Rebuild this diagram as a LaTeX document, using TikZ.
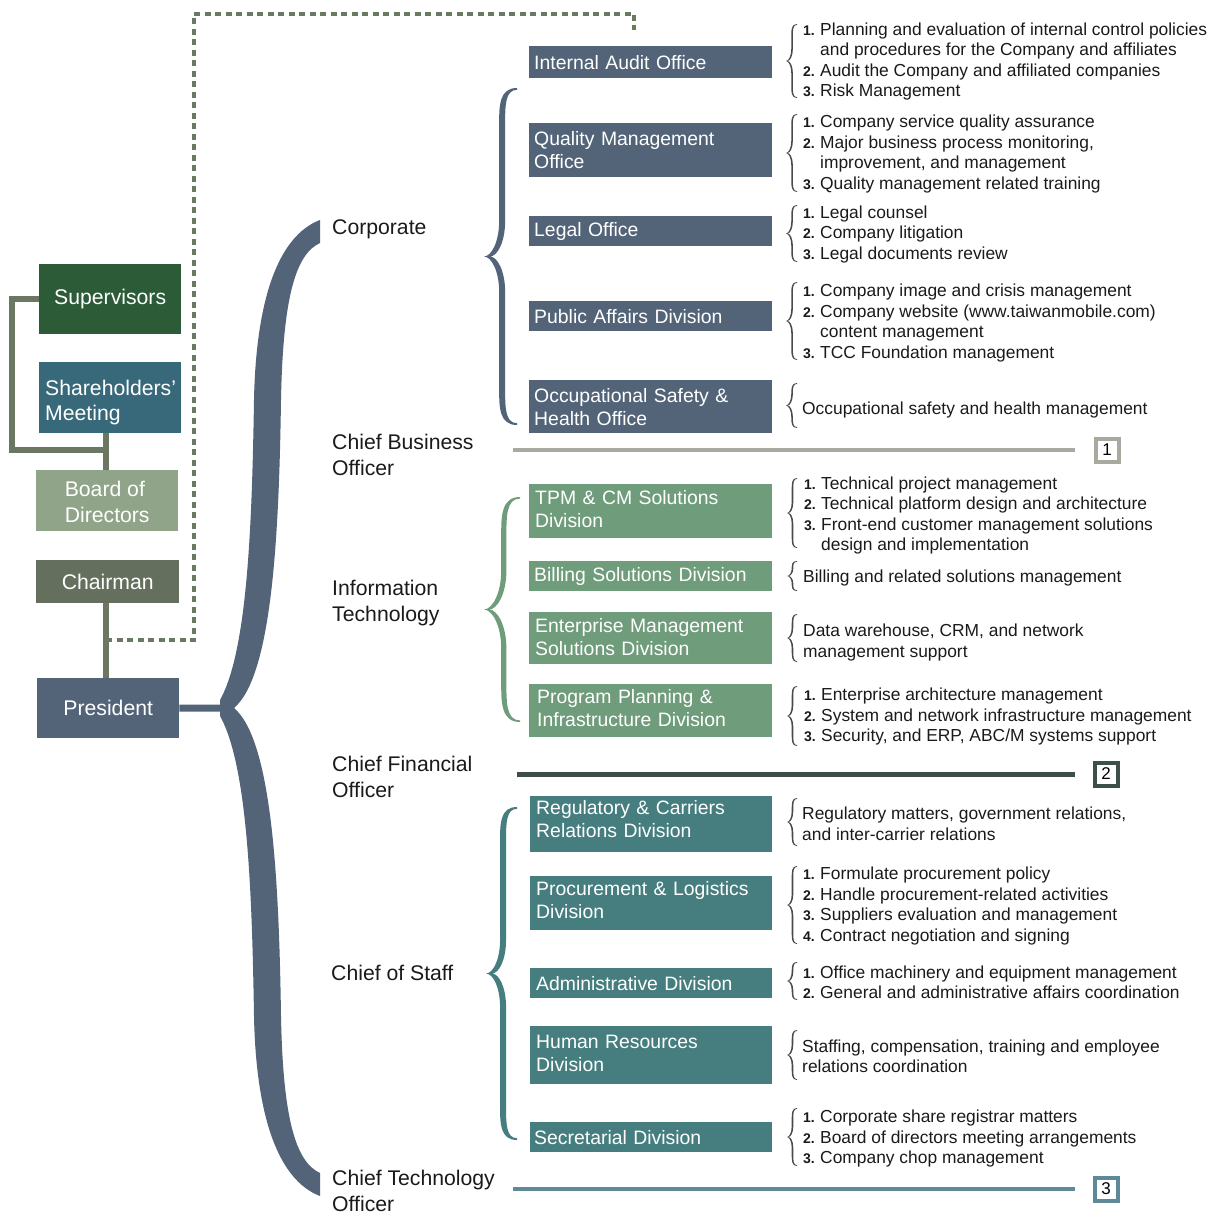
\documentclass[tikz,border=0pt]{standalone}
\usepackage{fontspec}
\setmainfont{Liberation Sans}
\definecolor{slate}{HTML}{536479}
\definecolor{itgreen}{HTML}{6F9C7B}
\definecolor{costeal}{HTML}{467E80}
\definecolor{supgreen}{HTML}{2C5B37}
\definecolor{shteal}{HTML}{38697A}
\definecolor{bodsage}{HTML}{8FA488}
\definecolor{chgrey}{HTML}{646F5D}
\definecolor{connc}{HTML}{6B7663}
\definecolor{dotc}{HTML}{687B61}
\definecolor{sepa}{HTML}{A8A99F}
\definecolor{sepb}{HTML}{3D5048}
\definecolor{sepc}{HTML}{5F8898}
\definecolor{txt}{HTML}{1A1A1A}
\definecolor{brc}{HTML}{4A4A4A}
\newcommand\itm[1]{\makebox[17pt][l]{\fontsize{14}{14}\selectfont\bfseries #1.}}
\newcommand\ind{\hspace*{17pt}}
\newcommand\dn[1]{\rule[-#1pt]{0pt}{#1pt}}
\newcommand\up[1]{\rule{0pt}{#1pt}}
\newcommand\sbr[6]{%
 \pgfmathsetmacro\bxe{#1}\pgfmathsetmacro\byt{#2}\pgfmathsetmacro\byb{#3}%
 \pgfmathsetmacro\bxt{#4}\pgfmathsetmacro\bw{#6}%
 \pgfmathsetmacro\bym{(\byt+\byb)/2}%
 \pgfmathsetmacro\bxa{\bxt+0.55*(\bxe-\bxt)}%
 \pgfmathsetmacro\bd{\bxa-\bxt}%
 \pgfmathsetmacro\bc{min(1.2*(\bxe-\bxa),(\byb-\byt)/8)}%
 \pgfmathsetmacro\bto{max(0.6*\bw,0.8)}%
 \fill[#5] (\bxe,\byt) .. controls (\bxa-\bw,\byt) and (\bxa-\bw,\byt+\bc) .. (\bxa-\bw,\byt+2*\bc)
  -- (\bxa-\bw,\bym-2*\bc) .. controls (\bxa-\bw,\bym-0.8*\bc) and (\bxt+0.4*\bd,\bym) .. (\bxt,\bym)
  .. controls (\bxt+0.4*\bd,\bym) and (\bxa-\bw,\bym+0.8*\bc) .. (\bxa-\bw,\bym+2*\bc)
  -- (\bxa-\bw,\byb-2*\bc) .. controls (\bxa-\bw,\byb-\bc) and (\bxa-\bw,\byb) .. (\bxe,\byb)
  -- (\bxe,\byb-\bto) .. controls (\bxa+\bw,\byb-\bto) and (\bxa+\bw,\byb-\bc) .. (\bxa+\bw,\byb-2*\bc)
  -- (\bxa+\bw,\bym+2*\bc) .. controls (\bxa+\bw,\bym+0.8*\bc) and (\bxt+2*\bw+0.4*\bd,\bym) .. (\bxt+2*\bw,\bym)
  .. controls (\bxt+2*\bw+0.4*\bd,\bym) and (\bxa+\bw,\bym-0.8*\bc) .. (\bxa+\bw,\bym-2*\bc)
  -- (\bxa+\bw,\byt+2*\bc) .. controls (\bxa+\bw,\byt+\bc) and (\bxa+\bw,\byt+\bto) .. (\bxe,\byt+\bto) -- cycle;
}
\tikzset{
 dept/.style={fill=#1, text=white, anchor=north west, inner xsep=5pt, inner ysep=0pt,
   text width=233pt, align=left, font=\fontsize{19.4}{23}\selectfont},
 lbox/.style={fill=#1, text=white, anchor=north west, inner xsep=5pt, inner ysep=0pt,
   align=left, font=\fontsize{21.2}{25}\selectfont},
 lab/.style={anchor=west, inner sep=0pt, align=left, text=txt, font=\fontsize{21.2}{26}\selectfont},
 desc/.style={anchor=west, inner sep=0pt, align=left, text=txt, yshift=-2pt, font=\fontsize{17.4}{20.5}\selectfont},
 conn/.style={draw=connc, line width=5.5pt},
 dotline/.style={draw=dotc, line width=4pt, dash pattern=on 6pt off 4.5pt},
 sepline/.style={draw=#1, line width=4pt},
 numbox/.style={draw=#1, line width=4pt, fill=white, minimum size=23pt, inner sep=0pt,
   text=black, font=\fontsize{17}{17}\selectfont}
}
\begin{document}
\begin{tikzpicture}[x=1pt,y=-1pt]
\useasboundingbox (0,0) rectangle (1220,1214);
% ---------- left column ----------
\node[lbox=supgreen, minimum width=142pt, minimum height=70pt] (sup) at (39,264) {Supervisors};
\node[lbox=shteal, minimum height=71pt, text width=130pt, inner xsep=6pt] (sh) at (39,362) {\up{25}Shareholders’\\Meeting};
\node[lbox=bodsage, minimum width=142pt, minimum height=61pt, font=\fontsize{21.2}{26}\selectfont] (bod) at (36,470) {\up{18}Board of\\Directors};
\node[lbox=chgrey, minimum width=143pt, minimum height=43pt] (ch) at (36,560) {Chairman};
\node[lbox=slate, minimum width=142pt, minimum height=60pt] (pres) at (37,678) {President};
\coordinate (j) at (106,450);
\coordinate (jl) at (12,450);
\draw[conn] (sup.west) -- (sup.west -| jl) -- (jl) -- (j);
\draw[conn] (sh.south -| j) -- (bod.north -| j);
\draw[conn] (ch.south -| j) -- (pres.north -| j);
\coordinate (d0) at (106,640);
\coordinate (d1) at (634,30);
\draw[dotline] (d0) -- (194,640) -- (194,14) -- (634,14) -- (d1);
% ---------- big brace ----------
\fill[slate] (320,220) .. controls (278,236) and (256,300) .. (254,400)
  .. controls (252,520) and (248,650) .. (220,700)
  -- (220,716)
  .. controls (248,766) and (252,896) .. (254,1016)
  .. controls (256,1116) and (278,1180) .. (320,1196)
  -- (320,1173)
  .. controls (296,1162) and (283,1120) .. (281,1016)
  .. controls (279,880) and (272,740) .. (234,708)
  .. controls (272,676) and (279,536) .. (281,400)
  .. controls (283,296) and (296,254) .. (320,243)
  -- cycle;
\coordinate (btip) at (224,708);
\draw[draw=slate, line width=7pt] (pres.east) -- (btip);
% ---------- labels ----------
\node[lab] (lcorp) at (332,229) {Corporate};
\node[lab] (lcbo) at (332,455) {Chief Business\\Officer};
\node[lab] (lit) at (332,603) {Information\\Technology};
\node[lab] (lcfo) at (332,777) {Chief Financial\\Officer};
\node[lab] (lcos) at (331,973) {Chief of Staff};
\node[lab] (lcto) at (332,1191) {Chief Technology\\Officer};
% ---------- section braces ----------
\sbr{517}{88}{425}{484}{slate}{3}
\sbr{520}{497}{722}{484}{itgreen}{2.6}
\sbr{517}{807}{1140}{486}{costeal}{3}
% ---------- corporate boxes ----------
\node[dept=slate, minimum height=32pt] (ia) at (529,46) {Internal Audit Office};
\node[dept=slate, minimum height=54pt] (qm) at (529,123) {Quality Management\\Office};
\node[dept=slate, minimum height=30pt] (lo) at (529,216) {Legal Office};
\node[dept=slate, minimum height=30pt] (pa) at (529,301) {Public Affairs Division};
\node[dept=slate, minimum height=53pt] (os) at (529,380) {Occupational Safety \&\\Health Office};
% ---------- IT boxes ----------
\node[dept=itgreen, inner xsep=6pt, text width=231pt, minimum height=54pt] (tpm) at (529,484) {TPM \& CM Solutions\\Division\dn{4}};
\node[dept=itgreen, minimum height=30pt] (bil) at (529,561) {Billing Solutions Division};
\node[dept=itgreen, inner xsep=6pt, text width=231pt, minimum height=52pt] (ems) at (529,612) {Enterprise Management\\Solutions Division\dn{2}};
\node[dept=itgreen, inner xsep=8pt, text width=227pt, minimum height=53pt] (ppi) at (529,684) {Program Planning \&\\Infrastructure Division\dn{5}};
% ---------- CoS boxes ----------
\node[dept=costeal, inner xsep=6pt, text width=230pt, minimum height=56pt] (reg) at (530,796) {Regulatory \& Carriers\\Relations Division\dn{10}};
\node[dept=costeal, inner xsep=6pt, text width=230pt, minimum height=54pt] (pro) at (530,876) {Procurement \& Logistics\\Division\dn{6}};
\node[dept=costeal, inner xsep=6pt, text width=230pt, minimum height=30pt] (adm) at (530,968) {Administrative Division};
\node[dept=costeal, inner xsep=6pt, text width=230pt, minimum height=58pt] (hr) at (530,1026) {Human Resources\\Division\dn{4}};
\node[dept=costeal, inner xsep=4pt, text width=234pt, minimum height=30pt] (sec) at (530,1122) {Secretarial Division};
% ---------- text braces ----------
\sbr{797}{24}{98}{786}{brc}{0.8}
\sbr{797}{114}{192}{786}{brc}{0.8}
\sbr{797}{205}{262}{786}{brc}{0.8}
\sbr{797}{282}{360}{786}{brc}{0.8}
\sbr{797}{383}{428}{786}{brc}{0.8}
\sbr{797}{478}{548}{787}{brc}{0.8}
\sbr{797}{561}{591}{787}{brc}{0.8}
\sbr{797}{614}{662}{787}{brc}{0.8}
\sbr{797}{686}{746}{787}{brc}{0.8}
\sbr{797}{798}{846}{787}{brc}{0.8}
\sbr{797}{866}{944}{787}{brc}{0.8}
\sbr{797}{962}{1000}{787}{brc}{0.8}
\sbr{797}{1030}{1080}{787}{brc}{0.8}
\sbr{797}{1108}{1166}{787}{brc}{0.8}
% ---------- descriptions ----------
\node[desc] (d1t) at (803,59.5) {\itm{1}Planning and evaluation of internal control policies\\\ind and procedures for the Company and affiliates\\\itm{2}Audit the Company and affiliated companies\\\itm{3}Risk Management};
\node[desc] (d2t) at (803,152) {\itm{1}Company service quality assurance\\\itm{2}Major business process monitoring,\\\ind improvement, and management\\\itm{3}Quality management related training};
\node[desc] (d3t) at (803,232.5) {\itm{1}Legal counsel\\\itm{2}Company litigation\\\itm{3}Legal documents review};
\node[desc] (d4t) at (803,321) {\itm{1}Company image and crisis management\\\itm{2}Company website (www.taiwanmobile.com)\\\ind content management\\\itm{3}TCC Foundation management};
\node[desc] (d5t) at (802,408) {Occupational safety and health management};
\node[desc] (d6t) at (804,513.5) {\itm{1}Technical project management\\\itm{2}Technical platform design and architecture\\\itm{3}Front-end customer management solutions\\\ind design and implementation};
\node[desc] (d7t) at (803,576) {Billing and related solutions management};
\node[desc] (d8t) at (803,640.5) {Data warehouse, CRM, and network\\management support};
\node[desc] (d9t) at (804,714.5) {\itm{1}Enterprise architecture management\\\itm{2}System and network infrastructure management\\\itm{3}Security, and ERP, ABC/M systems support};
\node[desc] (d10t) at (802,822) {Regulatory matters, government relations,\\and inter-carrier relations};
\node[desc] (d11t) at (803,904) {\itm{1}Formulate procurement policy\\\itm{2}Handle procurement-related activities\\\itm{3}Suppliers evaluation and management\\\itm{4}Contract negotiation and signing};
\node[desc] (d12t) at (803,980.5) {\itm{1}Office machinery and equipment management\\\itm{2}General and administrative affairs coordination};
\node[desc] (d13t) at (802,1054.5) {Staffing, compensation, training and employee\\relations coordination};
\node[desc] (d14t) at (803,1136.5) {\itm{1}Corporate share registrar matters\\\itm{2}Board of directors meeting arrangements\\\itm{3}Company chop management};
% ---------- separators ----------
\node[numbox=sepa] (n1) at (1107,450) {1};
\node[numbox=sepb] (n2) at (1106,774) {2};
\node[numbox=sepc] (n3) at (1106,1189) {3};
\coordinate (s1a) at (513,450); \coordinate (s1b) at (1075,450);
\coordinate (s2a) at (517,774); \coordinate (s2b) at (1075,774);
\coordinate (s3a) at (513,1189); \coordinate (s3b) at (1075,1189);
\draw[sepline=sepa] (s1a) -- (s1b);
\draw[sepline=sepb, line width=5pt] (s2a) -- (s2b);
\draw[sepline=sepc] (s3a) -- (s3b);
\end{tikzpicture}
\end{document}
